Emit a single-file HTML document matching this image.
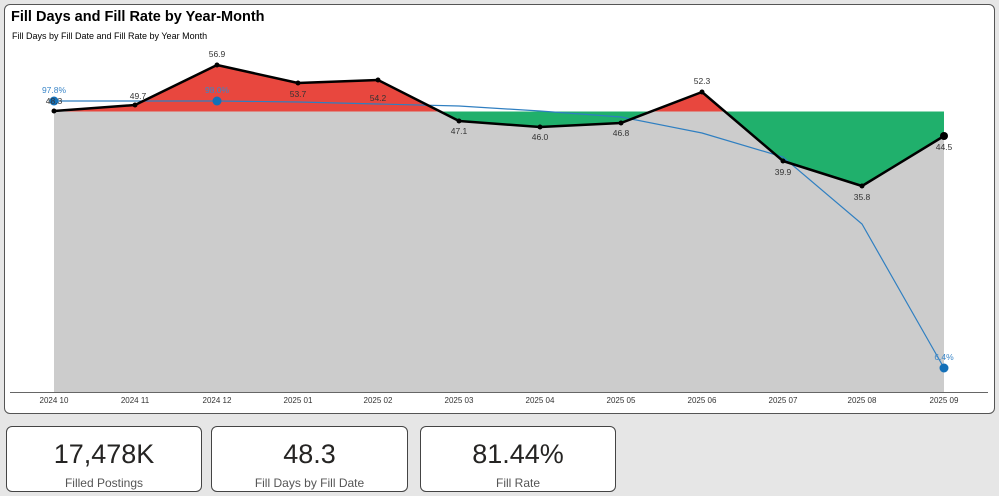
<!DOCTYPE html>
<html><head><style>
body{margin:0;width:999px;height:496px;background:#e6e6e6;font-family:"Liberation Sans",sans-serif;overflow:hidden;position:relative}
.panel{position:absolute;left:4px;top:4px;width:989px;height:408px;background:#fff;border:1px solid #555;border-radius:6px}
.card{position:absolute;top:426px;height:64px;background:#fff;border:1px solid #444;border-radius:6px;text-align:center}
.big{font-size:27px;color:#252423;margin-top:12px;line-height:30px}
.sm{font-size:12px;color:#555;margin-top:7px}
</style></head><body>
<div class="panel"></div>
<svg style="position:absolute;left:0;top:0" width="999" height="416" font-family="Liberation Sans, sans-serif">
<text x="11" y="21" font-size="14.5" font-weight="bold" fill="#000">Fill Days and Fill Rate by Year-Month</text>
<text x="12" y="39" font-size="9" fill="#000">Fill Days by Fill Date and Fill Rate by Year Month</text>
<rect x="54" y="111.5" width="890" height="280.5" fill="#cccccc"/>
<polygon points="54,111.5 135,105 217,65 298,83 378,80 439,111.5" fill="#e8473e"/>
<polygon points="652,111.5 702,92 724,111.5" fill="#e8473e"/>
<polygon points="439,111.5 459,121 540,127 621,123 652,111.5" fill="#20b06c"/>
<polygon points="724,111.5 783,161 862,186 944,136 944,111.5" fill="#20b06c"/>
<line x1="10" y1="392.5" x2="988" y2="392.5" stroke="#666" stroke-width="1"/>
<polyline points="54,101 217,101 298,102 378,104 459,106 540,111 621,117 702,133 783,157 862,224 944,368" fill="none" stroke="#2f7fc1" stroke-width="1.2"/>
<polyline points="54,111 135,105 217,65 298,83 378,80 459,121 540,127 621,123 702,92 783,161 862,186 944,136" fill="none" stroke="#000" stroke-width="2.5" stroke-linejoin="round"/>
<g fill="#000"><circle cx="54" cy="111" r="2.5"/><circle cx="135" cy="105" r="2.5"/><circle cx="217" cy="65" r="2.5"/><circle cx="298" cy="83" r="2.5"/><circle cx="378" cy="80" r="2.5"/><circle cx="459" cy="121" r="2.5"/><circle cx="540" cy="127" r="2.5"/><circle cx="621" cy="123" r="2.5"/><circle cx="702" cy="92" r="2.5"/><circle cx="783" cy="161" r="2.5"/><circle cx="862" cy="186" r="2.5"/><circle cx="944" cy="136" r="4"/></g>
<g fill="#1470b8"><circle cx="54" cy="101" r="4.5"/><circle cx="217" cy="101" r="4.5"/><circle cx="944" cy="368" r="4.5"/></g>
<g font-size="8.5" fill="#333" text-anchor="middle">
<text x="54" y="104">48.3</text><text x="138" y="99">49.7</text><text x="217" y="57">56.9</text><text x="298" y="97">53.7</text><text x="378" y="101">54.2</text><text x="459" y="134">47.1</text><text x="540" y="140">46.0</text><text x="621" y="136">46.8</text><text x="702" y="84">52.3</text><text x="783" y="175">39.9</text><text x="862" y="200">35.8</text><text x="944" y="150">44.5</text>
</g>
<g font-size="8.5" fill="#3a86c8" text-anchor="middle"><text x="54" y="93">97.8%</text><text x="217" y="93">98.0%</text><text x="944" y="360">6.4%</text></g>
<g font-size="8" fill="#333" text-anchor="middle">
<text x="54" y="403">2024 10</text><text x="135" y="403">2024 11</text><text x="217" y="403">2024 12</text><text x="298" y="403">2025 01</text><text x="378" y="403">2025 02</text><text x="459" y="403">2025 03</text><text x="540" y="403">2025 04</text><text x="621" y="403">2025 05</text><text x="702" y="403">2025 06</text><text x="783" y="403">2025 07</text><text x="862" y="403">2025 08</text><text x="944" y="403">2025 09</text>
</g>
</svg>
<div class="card" style="left:6px;width:194px"><div class="big">17,478K</div><div class="sm">Filled Postings</div></div>
<div class="card" style="left:211px;width:195px"><div class="big">48.3</div><div class="sm">Fill Days by Fill Date</div></div>
<div class="card" style="left:420px;width:194px"><div class="big">81.44%</div><div class="sm">Fill Rate</div></div>
</body></html>
